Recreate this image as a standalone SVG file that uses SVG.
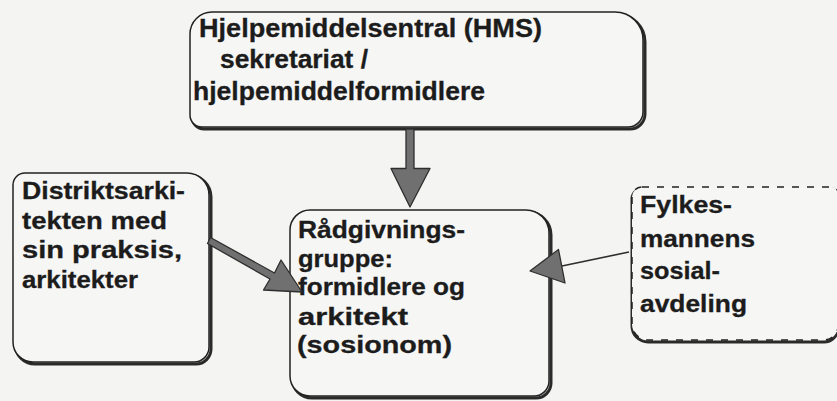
<svg xmlns="http://www.w3.org/2000/svg" width="837" height="401" viewBox="0 0 837 401">
<style>
.bg{fill:#f4f4f3}
.box{fill:#f6f6f5;stroke:#222;stroke-width:1.5}
.shadow{fill:none;stroke:#2a2a2a;stroke-width:3}
.dash{fill:#f6f6f5;stroke:#222;stroke-width:1.5;stroke-dasharray:7 8}
.t{font-family:"Liberation Sans",Arial,Helvetica,sans-serif;font-weight:bold;fill:#1c1c1c;stroke:#1c1c1c;stroke-width:0.3}
.big{font-size:25px}
.mid{font-size:24px}
.sm{font-size:23px}
.arrow{fill:#707070;stroke:#2e2e2e;stroke-width:1.3;stroke-linejoin:round}
.line{fill:none;stroke:#2e2e2e;stroke-width:1.6}
</style>
<rect class="bg" x="0" y="0" width="837" height="401"/>

<g id="hms">
<path class="shadow" transform="translate(2,2)" d="M212,12 H615 A28,28 0 0 1 643,40 V112 A15,15 0 0 1 628,127 H202 A12,12 0 0 1 190,115 V34 A22,22 0 0 1 212,12 Z"/>
<path class="box" d="M212,12 H615 A28,28 0 0 1 643,40 V112 A15,15 0 0 1 628,127 H202 A12,12 0 0 1 190,115 V34 A22,22 0 0 1 212,12 Z"/>
<text class="t big" x="199" y="37" textLength="343" lengthAdjust="spacingAndGlyphs">Hjelpemiddelsentral (HMS)</text>
<text class="t big" x="220" y="68" textLength="148" lengthAdjust="spacingAndGlyphs">sekretariat /</text>
<text class="t big" x="193" y="100" textLength="292" lengthAdjust="spacingAndGlyphs">hjelpemiddelformidlere</text>
</g>

<g id="distriktsarkitekt">
<path class="shadow" transform="translate(2,2)" d="M25,173 H187 A22,22 0 0 1 209,195 V347 A15,15 0 0 1 194,362 H33 A20,20 0 0 1 13,342 V185 A12,12 0 0 1 25,173 Z"/>
<path class="box" d="M25,173 H187 A22,22 0 0 1 209,195 V347 A15,15 0 0 1 194,362 H33 A20,20 0 0 1 13,342 V185 A12,12 0 0 1 25,173 Z"/>
<text class="t sm" x="22" y="199" textLength="163" lengthAdjust="spacingAndGlyphs">Distriktsarki-</text>
<text class="t sm" x="22" y="229" textLength="145" lengthAdjust="spacingAndGlyphs">tekten med</text>
<text class="t sm" x="22" y="258" textLength="160" lengthAdjust="spacingAndGlyphs">sin praksis,</text>
<text class="t sm" x="22" y="288" textLength="116" lengthAdjust="spacingAndGlyphs">arkitekter</text>
</g>

<g id="radgivningsgruppe">
<path class="shadow" transform="translate(2,2)" d="M310,210 H526 A23,23 0 0 1 549,233 V381 A15,15 0 0 1 534,396 H310 A20,20 0 0 1 290,376 V230 A20,20 0 0 1 310,210 Z"/>
<path class="box" d="M310,210 H526 A23,23 0 0 1 549,233 V381 A15,15 0 0 1 534,396 H310 A20,20 0 0 1 290,376 V230 A20,20 0 0 1 310,210 Z"/>
<text class="t mid" x="298" y="238" textLength="167" lengthAdjust="spacingAndGlyphs">Rådgivnings-</text>
<text class="t mid" x="298" y="267" textLength="95" lengthAdjust="spacingAndGlyphs">gruppe:</text>
<text class="t mid" x="298" y="295" textLength="167" lengthAdjust="spacingAndGlyphs">formidlere og</text>
<text class="t mid" x="298" y="325" textLength="110" lengthAdjust="spacingAndGlyphs">arkitekt</text>
<text class="t mid" x="297" y="353" textLength="155" lengthAdjust="spacingAndGlyphs">(sosionom)</text>
</g>

<g id="fylkesmannen">
<path class="shadow" transform="translate(0,2)" d="M642,187 H832 A6,6 0 0 1 838,193 V326 A14,14 0 0 1 824,340 H648 A16,16 0 0 1 632,324 V197 A10,10 0 0 1 642,187 Z"/>
<path class="dash" d="M642,187 H832 A6,6 0 0 1 838,193 V326 A14,14 0 0 1 824,340 H648 A16,16 0 0 1 632,324 V197 A10,10 0 0 1 642,187 Z"/>
<text class="t mid" x="640" y="213" textLength="92" lengthAdjust="spacingAndGlyphs">Fylkes-</text>
<text class="t mid" x="640" y="247" textLength="115" lengthAdjust="spacingAndGlyphs">mannens</text>
<text class="t mid" x="640" y="279" textLength="80" lengthAdjust="spacingAndGlyphs">sosial-</text>
<text class="t mid" x="640" y="312" textLength="107" lengthAdjust="spacingAndGlyphs">avdeling</text>
</g>

<g id="connectors">
<path class="arrow" d="M406,129 H414 V168.5 H430 L410,207 L391,168.5 H406 Z"/>
<path class="arrow" d="M210.5,237.5 L274.5,273 L281,260 L302,292 L263.5,290 L270,279 L207.5,243.5 Z"/>
<line class="line" x1="629" y1="252" x2="562" y2="266"/>
<path class="arrow" d="M530,271 L558.5,249.5 L565,283 Z"/>
</g>
</svg>
